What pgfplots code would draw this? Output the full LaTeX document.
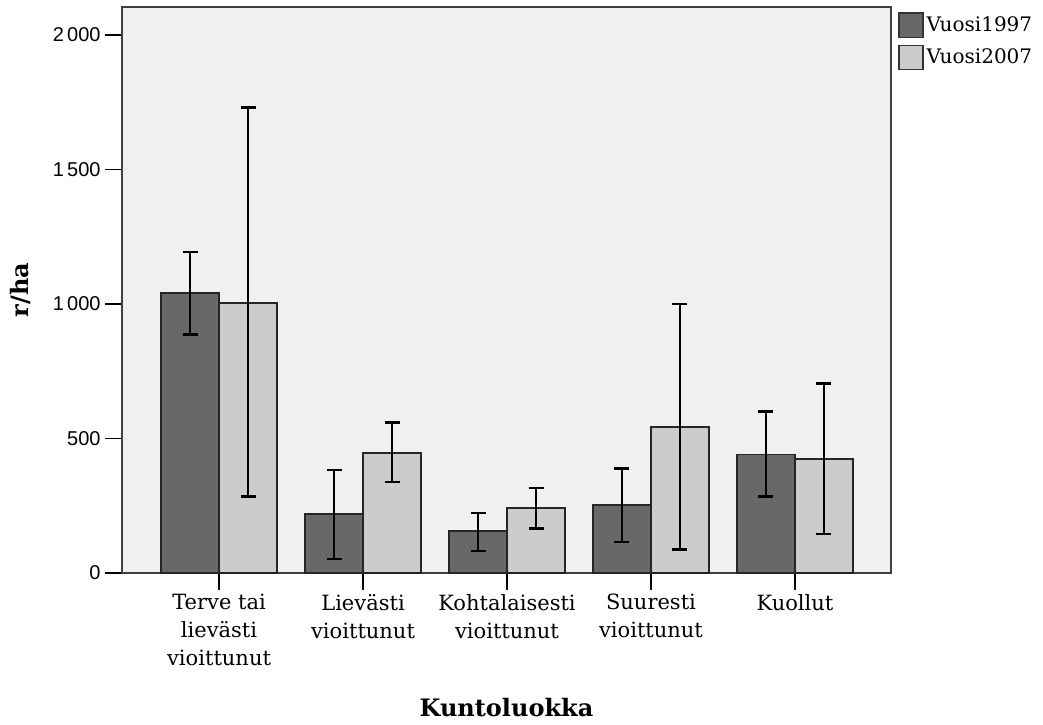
\documentclass[border=0pt]{standalone}
\usepackage{pgfplots}
\pgfplotsset{compat=1.18}
\usepackage{fontspec}
\setmainfont{DejaVu Serif}
\newfontfamily\ticksans{Liberation Sans}
\definecolor{barDark}{RGB}{104,104,104}
\definecolor{barLight}{RGB}{204,204,204}
\definecolor{plotBg}{RGB}{240,240,240}

% x, mean, error plus, error minus
\pgfplotstableread{
x y ep em
0 1041 152 153
1 219 164 167
2 156 67 74
3 253 134 138
4 442 157 159
}\vuosiA
\pgfplotstableread{
x y ep em
0 1004 725 721
1 446 112 108
2 242 74 78
3 543 457 457
4 424 279 279
}\vuosiB

\begin{document}
\begin{tikzpicture}
\useasboundingbox (-61pt,-75.5pt) rectangle (460.5pt,286.5pt);
\begin{axis}[
    at={(0,0)}, anchor=south west,
    scale only axis,
    width=384.5pt, height=283pt,
    ybar=0pt,
    bar width=29pt,
    xmin=-0.674, xmax=4.667,
    ymin=0, ymax=2104,
    xtick={0,1,2,3,4},
    xticklabels={{Terve tai\\lievästi\\vioittunut},{Lievästi\\vioittunut},{Kohtalaisesti\\vioittunut},{Suuresti\\vioittunut},Kuollut},
    ytick={0,500,1000,1500,2000},
    yticklabels={0,500,1\,000,1\,500,2\,000},
    xtick pos=bottom, ytick pos=left,
    tick align=outside,
    major tick length=8.5pt,
    tick style={black, line width=0.8pt},
    xticklabel style={align=center, font=\fontsize{10.5}{14}\selectfont, inner sep=2pt},
    yticklabel style={font=\ticksans\fontsize{10}{11}\selectfont, inner sep=2pt},
    axis background/.style={fill=plotBg},
    axis line style={draw=black!75, line width=1pt},
    ylabel={r/ha},
    xlabel={Kuntoluokka},
    ylabel style={at={(axis description cs:-0.1326,0.5)}, anchor=center, font=\bfseries\fontsize{12}{14}\selectfont},
    xlabel style={at={(axis description cs:0.5,-0.2385)}, anchor=center, font=\bfseries\fontsize{12}{14}\selectfont},
    legend style={at={(rel axis cs:1.009,0.991)}, anchor=north west, draw=none, fill=white,
        font=\fontsize{10}{12}\selectfont, inner sep=0pt, row sep=3.5pt,
        nodes={inner xsep=1.5pt, inner ysep=0pt}},
    legend cell align=left,
    legend image code/.code={\draw[#1, draw=black!80, line width=0.6pt] (0pt,-6pt) rectangle (12pt,6pt);},
    error bars/error bar style={black, line width=1.4pt},
    error bars/error mark options={rotate=90, mark size=3.75pt, line width=1.4pt, black},
]
\addplot[fill=barDark, draw=black!85, line width=0.6pt,
    error bars/.cd, y dir=both, y explicit]
    table[x=x, y=y, y error plus=ep, y error minus=em] {\vuosiA};
\addlegendentry{Vuosi1997}
\addplot[fill=barLight, draw=black!85, line width=0.6pt,
    error bars/.cd, y dir=both, y explicit]
    table[x=x, y=y, y error plus=ep, y error minus=em] {\vuosiB};
\addlegendentry{Vuosi2007}
\end{axis}
\end{tikzpicture}
\end{document}
